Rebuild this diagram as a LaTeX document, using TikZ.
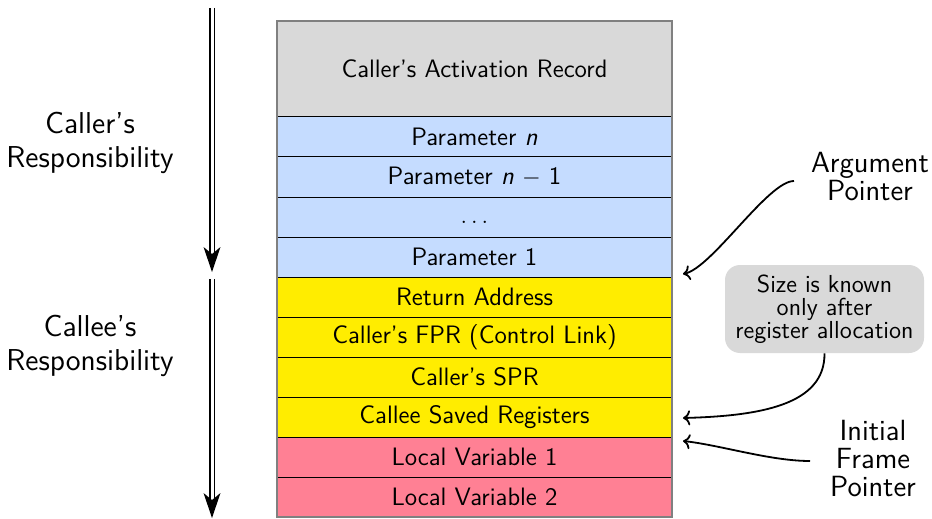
\documentclass[tikz,border=0pt]{standalone}
\usetikzlibrary{arrows.meta}
\renewcommand{\familydefault}{\sfdefault}
\definecolor{recgray}{RGB}{217,217,217}
\definecolor{parblue}{RGB}{197,220,255}
\definecolor{calyellow}{RGB}{255,237,0}
\definecolor{locpink}{RGB}{255,128,148}
\begin{document}
\begin{tikzpicture}[x=0.5pt,y=-0.5pt,
  cell/.style={draw=black, line width=0.5pt, minimum width=197.5pt, minimum height=20pt,
    inner sep=0pt, outer sep=0pt, anchor=north west, font=\fontsize{12.6}{14}\selectfont},
  side/.style={align=center, font=\fontsize{15.1}{17}\selectfont},
  rlabel/.style={align=center, font=\fontsize{14.6}{14}\selectfont},
  note/.style={fill=recgray, rounded corners=7.5pt, minimum width=99.5pt, minimum height=44pt,
    align=center, inner sep=0pt, font=\fontsize{12.3}{11.5}\selectfont},
  shaft/.style={double, double distance=1.5pt, line width=0.75pt},
  ptr/.style={->, line width=0.9pt}
]
\useasboundingbox (0,0) rectangle (932,519);

% stack
\node[cell, fill=recgray, minimum height=48pt] (car) at (277,21) {Caller's Activation Record};
\node[cell, fill=parblue] (pn)  at (277,117) {Parameter \textit{n}};
\node[cell, fill=parblue] (pn1) at (277,157) {Parameter \textit{n} $-$ 1};
\node[cell, fill=parblue] (pd)  at (277,197) {\vphantom{Pp}$\ldots$};
\node[cell, fill=parblue] (p1)  at (277,237) {Parameter 1};
\node[cell, fill=calyellow] (ra)  at (277,277) {Return Address};
\node[cell, fill=calyellow] (fpr) at (277,317) {Caller's FPR (Control Link)};
\node[cell, fill=calyellow] (spr) at (277,357) {Caller's SPR};
\node[cell, fill=calyellow] (csr) at (277,397) {Callee Saved Registers};
\node[cell, fill=locpink] (lv1) at (277,437) {Local Variable 1};
\node[cell, fill=locpink] (lv2) at (277,477) {Local Variable 2};
\draw[gray, line width=0.9pt] (car.north west) rectangle (lv2.south east);

% left side
\node[side] (callerR) at (90,143) {Caller's\\Responsibility};
\node[side] (calleeR) at (90,346) {Callee's\\Responsibility};

\coordinate (a1s) at (212,8);
\coordinate (a1b) at (212,256);
\coordinate (a1t) at (212,272);
\coordinate (a2s) at (212,279);
\coordinate (a2b) at (212,502);
\coordinate (a2t) at (212,518);
\draw[shaft] (a1s) -- (a1b);
\fill (a1t) -- ++(-8.5,-25) -- ++(8.5,7) -- ++(8.5,-7) -- cycle;
\draw[shaft] (a2s) -- (a2b);
\fill (a2t) -- ++(-8.5,-25) -- ++(8.5,7) -- ++(8.5,-7) -- cycle;

% right side
\node[rlabel] (ap) at (870,177) {Argument\\Pointer};
\node[note] (sz) at (824.5,309) {Size is known\\only after\\register allocation};
\node[rlabel] (ifp) at (873,459) {Initial\\Frame\\Pointer};

\coordinate (apS) at (794,181);
\coordinate (apE) at (683,274);
\coordinate (szE) at (683,418);
\coordinate (ifS) at (810,461);
\coordinate (ifE) at (683,441);

\draw[ptr] (apS) .. controls (768,181) and (712,268) .. (apE);
\draw[ptr] (sz.south) .. controls (825,405) and (760,416) .. (szE);
\draw[ptr] (ifS) .. controls (770,461) and (720,445) .. (ifE);
\end{tikzpicture}
\end{document}
